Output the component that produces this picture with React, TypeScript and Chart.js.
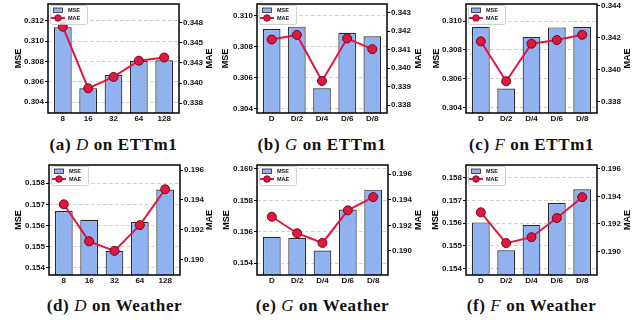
import React, { useEffect, useRef } from "react";
import { Chart, registerables } from "chart.js";

Chart.register(...registerables);

// ---------- data ----------
const powerCats = ["8", "16", "32", "64", "128"];
const ratioCats = ["D", "D/2", "D/4", "D/6", "D/8"];

const aMse = [0.31135, 0.30537, 0.30668, 0.30805, 0.30812];
const aMae = [0.34696, 0.33935, 0.34075, 0.34276, 0.34315];
const bMse = [0.30914, 0.30929, 0.30532, 0.3089, 0.30867];
const bMae = [0.34155, 0.3418, 0.33931, 0.34161, 0.34103];
const cMse = [0.3096, 0.30532, 0.3089, 0.30956, 0.3096];
const cMae = [0.34178, 0.33929, 0.34163, 0.34186, 0.34219];
const dMse = [0.15669, 0.15627, 0.1548, 0.15617, 0.1577];
const dMae = [0.19371, 0.19122, 0.19058, 0.19231, 0.19472];
const eMse = [0.15568, 0.1556, 0.1548, 0.15741, 0.15868];
const eMae = [0.19267, 0.19138, 0.19062, 0.19317, 0.19421];
const fMse = [0.15604, 0.15481, 0.15593, 0.15689, 0.1575];
const fMae = [0.19285, 0.19061, 0.19104, 0.19243, 0.19395];

const aMseTicks = [0.304, 0.306, 0.308, 0.31, 0.312];
const aMaeTicks = [0.3375, 0.34, 0.3425, 0.345, 0.3475];
const aMaeLabels = ["0.338", "0.340", "0.343", "0.345", "0.348"];
const bMseTicks = [0.304, 0.306, 0.308, 0.31];
const bMaeTicks = [0.338, 0.339, 0.34, 0.341, 0.342, 0.343];
const cMseTicks = [0.304, 0.306, 0.308, 0.31];
const cMaeTicks = [0.338, 0.34, 0.342, 0.344];
const dMseTicks = [0.154, 0.155, 0.156, 0.157, 0.158];
const dMaeTicks = [0.19, 0.192, 0.194, 0.196];
const eMseTicks = [0.154, 0.156, 0.158, 0.16];
const eMaeTicks = [0.19, 0.192, 0.194, 0.196];
const fMseTicks = [0.154, 0.155, 0.156, 0.157, 0.158];
const fMaeTicks = [0.19, 0.192, 0.194, 0.196];

const seriesNames = ["MSE", "MAE"];

// ---------- styles ----------
const BAR_FILL = "rgb(145,178,240)";
const BAR_EDGE = "#2a2a2a";
const LINE_COLOR = "#e3163f";
const MARKER_EDGE = "#6a0a1e";
const SANS = "'Liberation Sans', Arial, sans-serif";
const TICK_FONT = { family: SANS, size: 8, weight: "bold" as const };
const TITLE_FONT = { family: SANS, size: 9, weight: "bold" as const };

type PanelDef = {
  letter: string;
  param: string;
  dataset: string;
  cats: string[];
  mse: number[];
  mae: number[];
  mseTicks: number[];
  maeTicks: number[];
  maeLabels?: string[];
  mseRange: [number, number];
  maeRange: [number, number];
  box: { L: number; R: number; T: number; B: number; mseX: number; maeX: number };
};

const panels: PanelDef[] = [
  { letter: "a", param: "D", dataset: "ETTm1", cats: powerCats, mse: aMse, mae: aMae, mseTicks: aMseTicks, maeTicks: aMaeTicks, maeLabels: aMaeLabels, mseRange: [0.30295, 0.31364], maeRange: [0.3363, 0.34976], box: { L: 48, R: 179, T: 4, B: 113, mseX: 18.3, maeX: 209.3 } },
  { letter: "b", param: "G", dataset: "ETTm1", cats: ratioCats, mse: bMse, mae: bMae, mseTicks: bMseTicks, maeTicks: bMaeTicks, mseRange: [0.30372, 0.31075], maeRange: [0.33758, 0.34347], box: { L: 257, R: 387, T: 4, B: 113, mseX: 225, maeX: 419 } },
  { letter: "c", param: "F", dataset: "ETTm1", cats: ratioCats, mse: cMse, mae: cMae, mseTicks: cMseTicks, maeTicks: cMaeTicks, mseRange: [0.30363, 0.31118], maeRange: [0.33731, 0.34411], box: { L: 466, R: 597, T: 4, B: 113, mseX: 436.7, maeX: 627.3 } },
  { letter: "d", param: "D", dataset: "Weather", cats: powerCats, mse: dMse, mae: dMae, mseTicks: dMseTicks, maeTicks: dMaeTicks, mseRange: [0.15366, 0.15886], maeRange: [0.18896, 0.19635], box: { L: 49, R: 180, T: 165, B: 275, mseX: 18.3, maeX: 209.3 } },
  { letter: "e", param: "G", dataset: "Weather", cats: ratioCats, mse: eMse, mae: eMae, mseTicks: eMseTicks, maeTicks: eMaeTicks, mseRange: [0.15324, 0.16025], maeRange: [0.18811, 0.19672], box: { L: 257, R: 388, T: 165, B: 275, mseX: 226, maeX: 419 } },
  { letter: "f", param: "F", dataset: "Weather", cats: ratioCats, mse: fMse, mae: fMae, mseTicks: fMseTicks, maeTicks: fMaeTicks, mseRange: [0.15372, 0.15857], maeRange: [0.18829, 0.19629], box: { L: 466, R: 597, T: 165, B: 275, mseX: 435, maeX: 627.3 } },
];

const TOP_PAD = 6;
const X_AXIS_H = 14;
const TITLE_HALF = 5.4;

const frameLegendPlugin = {
  id: "frameLegend",
  afterDatasetsDraw(chart: any) {
    const { ctx, chartArea: a } = chart;
    const ds = chart.data.datasets;
    ctx.save();
    // frame
    ctx.strokeStyle = "#000";
    ctx.lineWidth = 1.5;
    ctx.strokeRect(a.left, a.top, a.right - a.left, a.bottom - a.top);
    // legend box
    const lx = a.left + 2;
    const ly = a.top + 1;
    const lw = 37;
    const lh = 19;
    ctx.fillStyle = "rgba(255,255,255,0.8)";
    ctx.strokeStyle = "#c4c4c4";
    ctx.lineWidth = 0.8;
    ctx.beginPath();
    (ctx as any).roundRect(lx + 0.5, ly + 0.5, lw, lh, 2);
    ctx.fill();
    ctx.stroke();
    // bar patch
    ctx.fillStyle = BAR_FILL;
    ctx.fillRect(lx + 3.5, ly + 3, 9, 4.5);
    ctx.strokeStyle = BAR_EDGE;
    ctx.lineWidth = 0.8;
    ctx.strokeRect(lx + 3.5, ly + 3, 9, 4.5);
    // line + marker
    const ry = ly + 13;
    ctx.strokeStyle = LINE_COLOR;
    ctx.lineWidth = 2;
    ctx.beginPath();
    ctx.moveTo(lx + 1, ry);
    ctx.lineTo(lx + 15, ry);
    ctx.stroke();
    ctx.beginPath();
    ctx.arc(lx + 8, ry, 3.3, 0, Math.PI * 2);
    ctx.fillStyle = LINE_COLOR;
    ctx.fill();
    ctx.strokeStyle = MARKER_EDGE;
    ctx.lineWidth = 0.8;
    ctx.stroke();
    // text
    ctx.fillStyle = "#111";
    ctx.font = "bold 5.5px " + SANS;
    ctx.textBaseline = "middle";
    ctx.textAlign = "left";
    ctx.fillText(ds[0].label, lx + 18, ly + 5.5);
    ctx.fillText(ds[1].label, lx + 18, ry);
    // right axis title, reading bottom-to-top like the left one
    ctx.save();
    ctx.translate(chart.width - TITLE_HALF, (a.top + a.bottom) / 2);
    ctx.rotate(-Math.PI / 2);
    ctx.font = "bold 9px " + SANS;
    ctx.fillStyle = "#000";
    ctx.textAlign = "center";
    ctx.textBaseline = "middle";
    ctx.fillText(ds[1].label, 0, 0);
    ctx.restore();
    ctx.restore();
  },
};

function Panel({ p }: { p: PanelDef }) {
  const ref = useRef<HTMLCanvasElement>(null);
  const b = p.box;
  const left = Math.round(b.mseX - TITLE_HALF);
  const right = Math.round(b.maeX + TITLE_HALF);
  const width = right - left;
  const top = b.T - TOP_PAD;
  const height = b.B - b.T + TOP_PAD + X_AXIS_H;
  const leftW = b.L - left;
  const rightW = right - b.R;

  useEffect(() => {
    if (!ref.current) return;
    const chart = new Chart(ref.current, {
      type: "bar",
      data: {
        datasets: [
          {
            type: "bar",
            label: seriesNames[0],
            data: p.mse.map((v, i) => ({ x: i, y: v })),
            backgroundColor: BAR_FILL,
            borderColor: BAR_EDGE,
            borderWidth: 1.2,
            borderSkipped: "start",
            barPercentage: 0.7,
            categoryPercentage: 1,
            yAxisID: "y",
            xAxisID: "x",
            order: 2,
          } as any,
          {
            type: "line",
            label: seriesNames[1],
            data: p.mae.map((v, i) => ({ x: i, y: v })),
            borderColor: LINE_COLOR,
            borderWidth: 2,
            backgroundColor: LINE_COLOR,
            pointBackgroundColor: LINE_COLOR,
            pointBorderColor: MARKER_EDGE,
            pointBorderWidth: 1,
            pointRadius: 4.5,
            tension: 0,
            yAxisID: "y2",
            xAxisID: "x",
            order: 1,
          } as any,
        ],
      },
      options: {
        responsive: false,
        animation: false,
        events: [],
        layout: { padding: { top: TOP_PAD, left: 0, right: 0, bottom: 0 } },
        plugins: { legend: { display: false }, tooltip: { enabled: false } },
        scales: {
          x: {
            type: "linear",
            min: -0.585,
            max: p.cats.length - 1 + 0.585,
            offset: false,
            grid: { display: false, drawTicks: false, offset: false },
            border: { display: false },
            ticks: {
              font: TICK_FONT,
              color: "#111",
              padding: 1,
              autoSkip: false,
              maxRotation: 0,
              callback: (v: any) => p.cats[Math.round(v)] ?? "",
            },
            afterBuildTicks: (s: any) => {
              s.ticks = p.cats.map((_, i) => ({ value: i }));
            },
            afterFit: (s: any) => {
              s.height = X_AXIS_H;
            },
          },
          y: {
            type: "linear",
            position: "left",
            min: p.mseRange[0],
            max: p.mseRange[1],
            grid: {
              color: "#c4c4c4",
              lineWidth: 0.8,
              tickColor: "#000",
              tickLength: 3,
              tickWidth: 1,
              tickBorderDash: [],
            },
            border: { display: false, dash: [3.5, 2.5] },
            ticks: {
              font: TICK_FONT,
              color: "#111",
              padding: 1,
              callback: (v: any) => Number(v).toFixed(3),
            },
            afterBuildTicks: (s: any) => {
              s.ticks = p.mseTicks.map((v) => ({ value: v }));
            },
            title: {
              display: true,
              text: seriesNames[0],
              font: TITLE_FONT,
              color: "#000",
              padding: { top: 0, bottom: 0 },
            },
            afterFit: (s: any) => {
              s.width = leftW;
            },
          },
          y2: {
            type: "linear",
            position: "right",
            min: p.maeRange[0],
            max: p.maeRange[1],
            grid: {
              drawOnChartArea: false,
              tickColor: "#000",
              tickLength: 3,
              tickWidth: 1,
            },
            border: { display: false },
            ticks: {
              font: TICK_FONT,
              color: "#111",
              padding: 1,
              callback: (v: any, i: number) =>
                p.maeLabels ? p.maeLabels[i] : Number(v).toFixed(3),
            },
            afterBuildTicks: (s: any) => {
              s.ticks = p.maeTicks.map((v) => ({ value: v }));
            },
            title: { display: false },
            afterFit: (s: any) => {
              s.width = rightW;
            },
          },
        },
      },
      plugins: [frameLegendPlugin],
    } as any);
    return () => chart.destroy();
  }, []);

  const cx = (b.L + b.R) / 2;
  const capCenter = b.T === 4 ? 145 : 305.5;
  return (
    <>
      <canvas
        ref={ref}
        width={width}
        height={height}
        style={{ position: "absolute", left, top, width, height }}
      />
      <div
        style={{
          position: "absolute",
          left: cx - 110,
          width: 220,
          top: capCenter - 10,
          height: 20,
          lineHeight: "20px",
          textAlign: "center",
          fontFamily: "'Liberation Serif', 'Times New Roman', serif",
          fontWeight: "bold",
          fontSize: 17,
          letterSpacing: "0.6px",
          color: "#111",
          whiteSpace: "nowrap",
        }}
      >
        ({p.letter}) <i style={{ fontWeight: "normal" }}>{p.param}</i> on {p.dataset}
      </div>
    </>
  );
}

export default function App() {
  return (
    <div style={{ position: "absolute", left: 0, top: 0, width: 637, height: 320, background: "#fff" }}>
      {panels.map((p) => (
        <Panel key={p.letter} p={p} />
      ))}
    </div>
  );
}
